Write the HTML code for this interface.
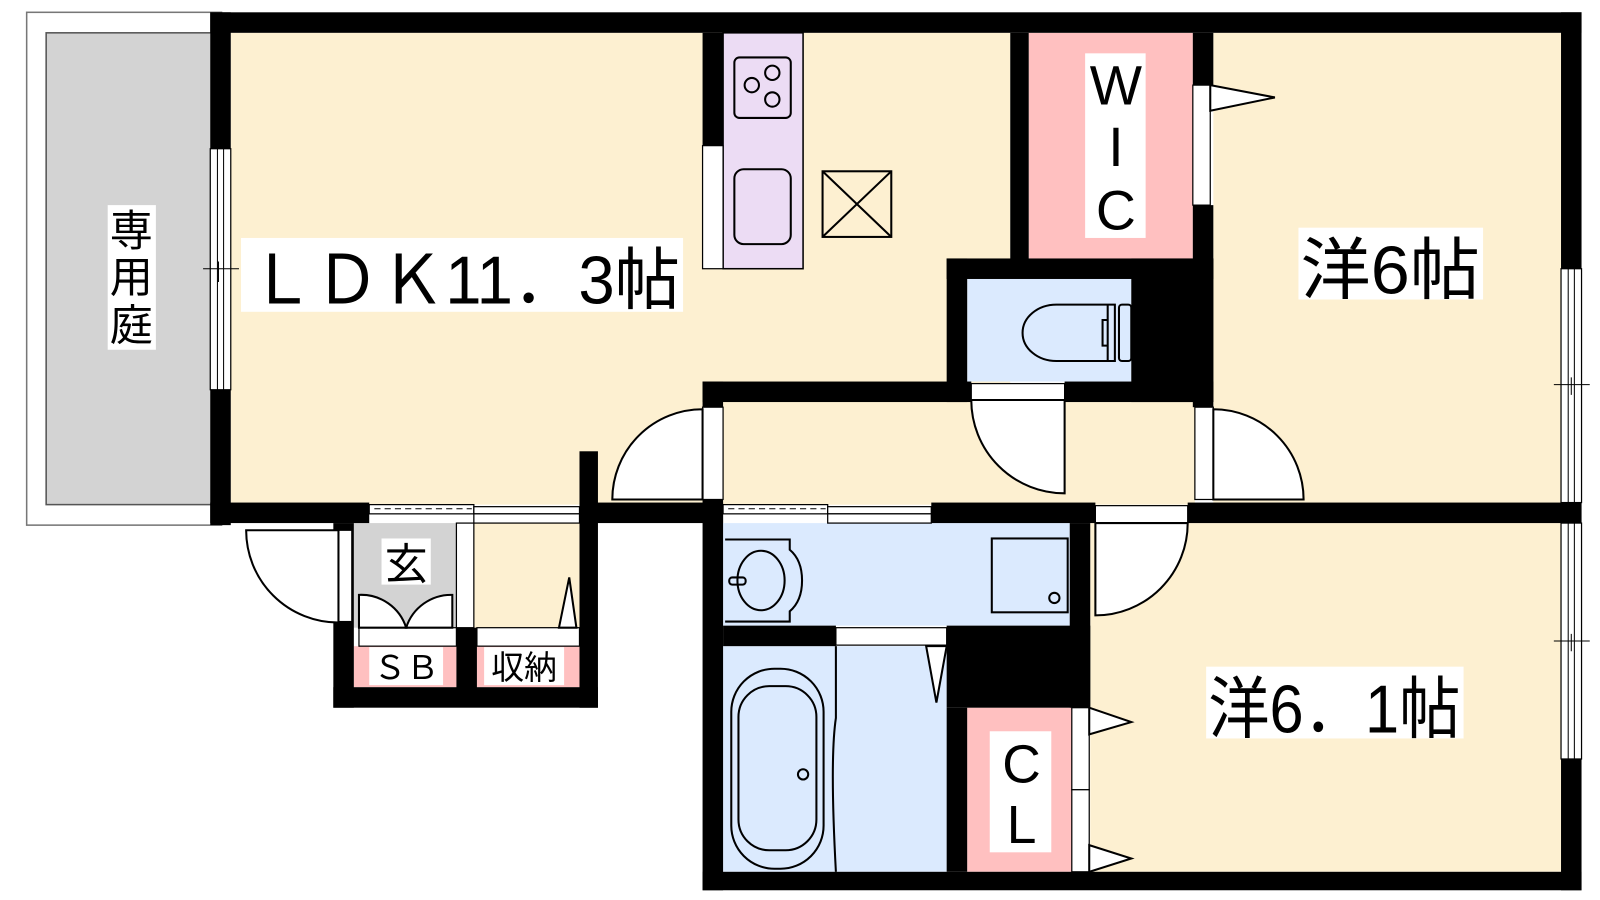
<!DOCTYPE html>
<html><head><meta charset="utf-8"><style>
html,body{margin:0;padding:0;background:#fff;}
svg{display:block}
text{font-family:"Liberation Sans","Noto Sans CJK JP",sans-serif;fill:#000}
</style></head><body>
<svg width="1600" height="900" viewBox="0 0 1560 877.5" preserveAspectRatio="none" xmlns="http://www.w3.org/2000/svg">
<g stroke="#000" stroke-width="1.5">
<rect x="26" y="12" width="190" height="500" fill="#fff" stroke="#777"/>
<rect x="45" y="32" width="165" height="460" fill="#d3d3d3" stroke="#555"/>
</g>
<g stroke="none">
<rect x="225" y="32" width="760" height="460" fill="#fdf0d1"/>
<rect x="705" y="392" width="460" height="100" fill="#fdf0d1"/>
<rect x="1183" y="32" width="339" height="460" fill="#fdf0d1"/>
<rect x="1063" y="510" width="459" height="340" fill="#fdf0d1"/>
<rect x="462" y="510" width="103" height="102" fill="#fdf0d1"/>
<rect x="345" y="510" width="100" height="102" fill="#d3d3d3"/>
<rect x="1003" y="32" width="160" height="220" fill="#ffc0c0"/>
<rect x="943" y="272" width="160" height="100" fill="#dbeafe"/>
<rect x="705" y="510" width="338" height="100" fill="#dbeafe"/>
<rect x="705" y="630" width="218" height="220" fill="#dbeafe"/>
<rect x="943" y="690" width="102" height="160" fill="#ffc0c0"/>
<rect x="345" y="630" width="100" height="40" fill="#ffc0c0"/>
<rect x="465" y="630" width="100" height="40" fill="#ffc0c0"/>
</g>
<rect x="705" y="32" width="78" height="230" fill="#ecdcf4" stroke="#000" stroke-width="1.5"/>
<g fill="none" stroke="#000" stroke-width="2">
<rect x="716" y="56" width="55" height="59" rx="5"/>
<rect x="716" y="165" width="55" height="73" rx="9"/>
<circle cx="733" cy="83" r="7"/><circle cx="753" cy="71" r="7"/><circle cx="753" cy="97" r="7"/>
<rect x="802" y="167" width="67" height="64"/>
<path d="M802 167 L869 231 M869 167 L802 231"/>
</g>
<g fill="#000">
<rect x="205" y="12" width="1337" height="20"/>
<rect x="205" y="12" width="20" height="500"/>
<rect x="1522" y="12" width="20" height="856"/>
<rect x="205" y="490" width="155" height="20"/>
<rect x="565" y="490" width="140" height="20"/>
<rect x="908" y="490" width="160" height="20"/>
<rect x="1158" y="490" width="384" height="20"/>
<rect x="565" y="440" width="18" height="250"/>
<rect x="325" y="510" width="20" height="180"/>
<rect x="325" y="670" width="258" height="20"/>
<rect x="445" y="612" width="20" height="70"/>
<rect x="685" y="32" width="20" height="110"/>
<rect x="985" y="32" width="18" height="232"/>
<rect x="1163" y="32" width="20" height="51"/>
<rect x="1163" y="200" width="20" height="197"/>
<rect x="923" y="252" width="260" height="20"/>
<rect x="923" y="252" width="20" height="140"/>
<rect x="1103" y="252" width="80" height="140"/>
<rect x="685" y="372" width="262" height="20"/>
<rect x="1038" y="372" width="145" height="20"/>
<rect x="685" y="372" width="20" height="25"/>
<rect x="685" y="487" width="20" height="381"/>
<rect x="685" y="850" width="857" height="18"/>
<rect x="1043" y="510" width="20" height="180"/>
<rect x="705" y="610" width="110" height="20"/>
<rect x="923" y="610" width="140" height="80"/>
<rect x="923" y="690" width="20" height="160"/>
</g>
<g fill="#fff" stroke="#000" stroke-width="1.2">
<rect x="205" y="145" width="20" height="235"/>
<rect x="1522" y="262" width="20" height="228"/>
<rect x="1522" y="510" width="20" height="230"/>
<rect x="685" y="142" width="20" height="120"/>
<rect x="1163" y="83" width="17" height="117"/>
<rect x="947" y="374" width="91" height="16"/>
<rect x="685" y="397" width="20" height="90"/>
<rect x="1165" y="397" width="18" height="90"/>
<rect x="360" y="492" width="102" height="9"/>
<rect x="462" y="494" width="103" height="7"/><rect x="462" y="501" width="103" height="9"/>
<rect x="705" y="492" width="102" height="9"/>
<rect x="807" y="494" width="101" height="7"/><rect x="807" y="501" width="101" height="9"/>
<rect x="1068" y="493" width="90" height="17"/>
<rect x="327" y="517" width="16" height="89"/>
<rect x="445" y="510" width="17" height="102"/>
<rect x="350" y="612" width="95" height="18"/>
<rect x="465" y="612" width="100" height="18"/>
<rect x="815" y="612" width="108" height="17"/>
<rect x="1045" y="690" width="17" height="80"/>
<rect x="1045" y="770" width="17" height="80"/>
</g>
<g stroke="#000" stroke-width="1" fill="none">
<path d="M212 145 V380 M218 145 V380 M1529 262 V490 M1535 262 V490 M1529 510 V740 M1535 510 V740"/>
<path d="M198 262 H233 M213 255 V275 M1515 375 H1550 M1532 368 V385 M1515 625 H1550 M1532 618 V635"/>
<path d="M365 496 H460" stroke-dasharray="6 4"/>
<path d="M710 496 H805" stroke-dasharray="6 4"/>
</g>
<g fill="#fff" stroke="#000" stroke-width="2">
<path d="M685 487 L597 487 A88 88 0 0 1 685 399 Z"/>
<path d="M1038 390 L947 390 A91 91 0 0 0 1038 481 Z"/>
<path d="M1183 487 L1183 399 A88 88 0 0 1 1271 487 Z"/>
<path d="M330 517 L240 517 A90 90 0 0 0 330 607 Z"/>
<path d="M1068 510 L1158 510 A90 90 0 0 1 1068 600 Z"/>
<path d="M350 612 V580 A46 46 0 0 1 396 612 Z"/>
<path d="M441 612 V580 A46 46 0 0 0 396 612 Z"/>
<path d="M1180 83 L1243 95 L1180 108 Z"/>
<path d="M1062 690 L1103 704 L1062 716 Z"/>
<path d="M1062 824 L1103 837 L1062 850 Z"/>
<path d="M903 630 L913 685 L923 630 Z"/>
<path d="M545 612 L555 563 L562 612 Z"/>
</g>
<g fill="none" stroke="#000" stroke-width="2">
<path d="M1087 297 H1030 A33 27.5 0 0 0 1030 352 H1087 Z"/>
<rect x="1091" y="297" width="12" height="55" rx="3"/>
<path d="M1080 297 V352 M1080 312 H1075 V337 H1080"/>
<path d="M707 526 H770 V536 Q782 546 782 566 Q782 586 770 596 V606 H707"/>
<ellipse cx="742" cy="566" rx="23" ry="29"/>
<rect x="711" y="563" width="16" height="7" rx="3"/>
<rect x="967" y="525" width="74" height="72"/>
<circle cx="1028" cy="583" r="5"/>
<path d="M815 630 V700 Q809 740 815 850"/>
<rect x="713" y="652" width="90" height="195" rx="42"/>
<rect x="720" y="669" width="76" height="160" rx="30"/>
<circle cx="783" cy="755" r="5"/>
</g>
<g fill="#fff">
<rect x="105" y="200" width="47" height="141"/>
<rect x="235" y="232" width="431" height="72"/>
<rect x="1266" y="222" width="180" height="70"/>
<rect x="1176" y="650" width="251" height="70"/>
<rect x="1058" y="52" width="59" height="180"/>
<rect x="965" y="713" width="60" height="118"/>
<rect x="372" y="525" width="48" height="45"/>
<rect x="360" y="631" width="72" height="37"/>
<rect x="472" y="631" width="78" height="37"/>
</g>
<text x="128" y="240" font-size="42" text-anchor="middle">専</text>
<text x="128" y="285" font-size="42" text-anchor="middle">用</text>
<text x="128" y="332" font-size="42" text-anchor="middle">庭</text>
<text x="243" y="296" font-size="66" textLength="420" lengthAdjust="spacingAndGlyphs">ＬＤＫ11．3帖</text>
<text x="1268" y="286" font-size="66" textLength="175" lengthAdjust="spacingAndGlyphs">洋6帖</text>
<text x="1178" y="714" font-size="66" textLength="246" lengthAdjust="spacingAndGlyphs">洋6．1帖</text>
<text x="1088" y="102" font-size="54" text-anchor="middle">W</text>
<text x="1088" y="162" font-size="54" text-anchor="middle">I</text>
<text x="1088" y="224" font-size="54" text-anchor="middle">C</text>
<text x="996" y="763" font-size="52" text-anchor="middle">C</text>
<text x="996" y="822" font-size="52" text-anchor="middle">L</text>
<text x="396" y="565" font-size="42" text-anchor="middle">玄</text>
<text x="396" y="662" font-size="32" text-anchor="middle">ＳＢ</text>
<text x="511" y="662" font-size="32" text-anchor="middle">収納</text>
</svg>
</body></html>
